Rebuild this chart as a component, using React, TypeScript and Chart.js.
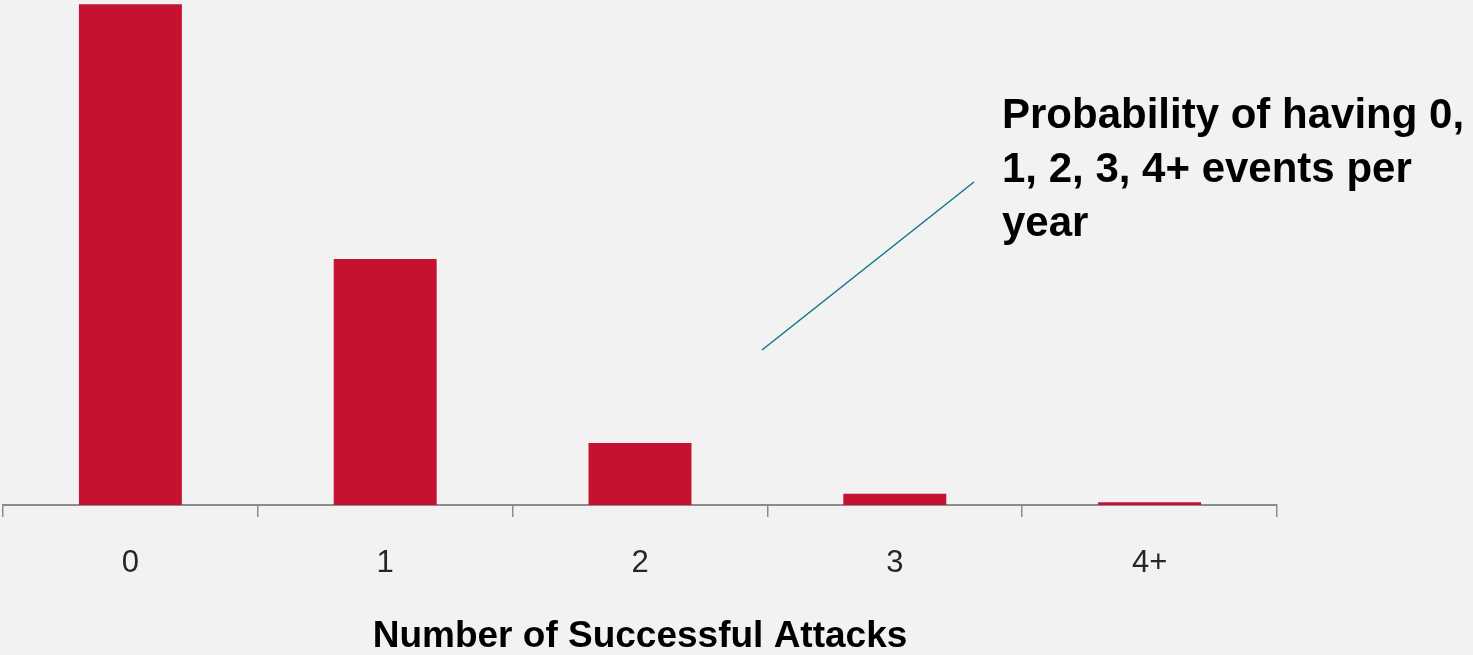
import React, { useEffect, useRef } from "react";
import { Chart, registerables } from "chart.js";

Chart.register(...registerables);

const categories = ["0", "1", "2", "3", "4+"];
const probabilities = [0.607, 0.298, 0.075, 0.0137, 0.0033];
const xAxisTitle = "Number of Successful Attacks";
const noteLines = ["Probability of having 0,", "1, 2, 3, 4+ events per", "year"];

const BG = "#f2f2f2";
const BAR = "#c41230";
const AXIS = "#8c8c8c";
const LINE = "#10758a";
const FONT = "'Liberation Sans', Arial, sans-serif";

const annotationPlugin = {
  id: "note",
  afterDraw(chart: any) {
    const ctx = chart.ctx;
    ctx.save();
    ctx.strokeStyle = LINE;
    ctx.lineWidth = 1.5;
    ctx.beginPath();
    ctx.moveTo(762, 350);
    ctx.lineTo(974, 182);
    ctx.stroke();
    ctx.fillStyle = "#000";
    ctx.font = `bold 42px ${FONT}`;
    ctx.textAlign = "left";
    ctx.textBaseline = "alphabetic";
    noteLines.forEach((t, i) => ctx.fillText(t, 1002, 128 + i * 54));
    ctx.restore();
  },
};

export default function App() {
  const ref = useRef<HTMLCanvasElement>(null);
  useEffect(() => {
    if (!ref.current) return;
    const chart = new Chart(ref.current, {
      type: "bar",
      data: {
        labels: categories,
        datasets: [
          {
            data: probabilities,
            backgroundColor: BAR,
            borderWidth: 0,
            categoryPercentage: 1,
            barPercentage: 0.404,
          },
        ],
      },
      options: {
        animation: false,
        responsive: false,
        maintainAspectRatio: false,
        layout: { padding: { left: 3, right: 196, top: 0, bottom: 0 } },
        plugins: { legend: { display: false }, tooltip: { enabled: false } },
        scales: {
          y: { display: false, min: 0, max: 0.612 },
          x: {
            afterFit: (scale: any) => {
              scale.height = 150;
            },
            grid: {
              offset: true,
              drawOnChartArea: false,
              drawTicks: true,
              tickLength: 12,
              tickColor: AXIS,
              lineWidth: 1.5,
            },
            border: { display: true, color: AXIS, width: 2 },
            ticks: {
              color: "#262626",
              padding: 28,
              font: { family: FONT, size: 31 },
            },
            title: {
              display: true,
              text: xAxisTitle,
              color: "#000",
              padding: { top: 0, bottom: 0 },
              font: { family: FONT, size: 37, weight: "bold", lineHeight: 1.0 },
            },
          },
        },
      },
      plugins: [annotationPlugin],
    });
    return () => chart.destroy();
  }, []);
  return (
    <div style={{ position: "fixed", left: 0, top: 0, width: 1473, height: 655, background: BG }}>
      <canvas ref={ref} width={1473} height={655} style={{ display: "block" }} />
    </div>
  );
}
